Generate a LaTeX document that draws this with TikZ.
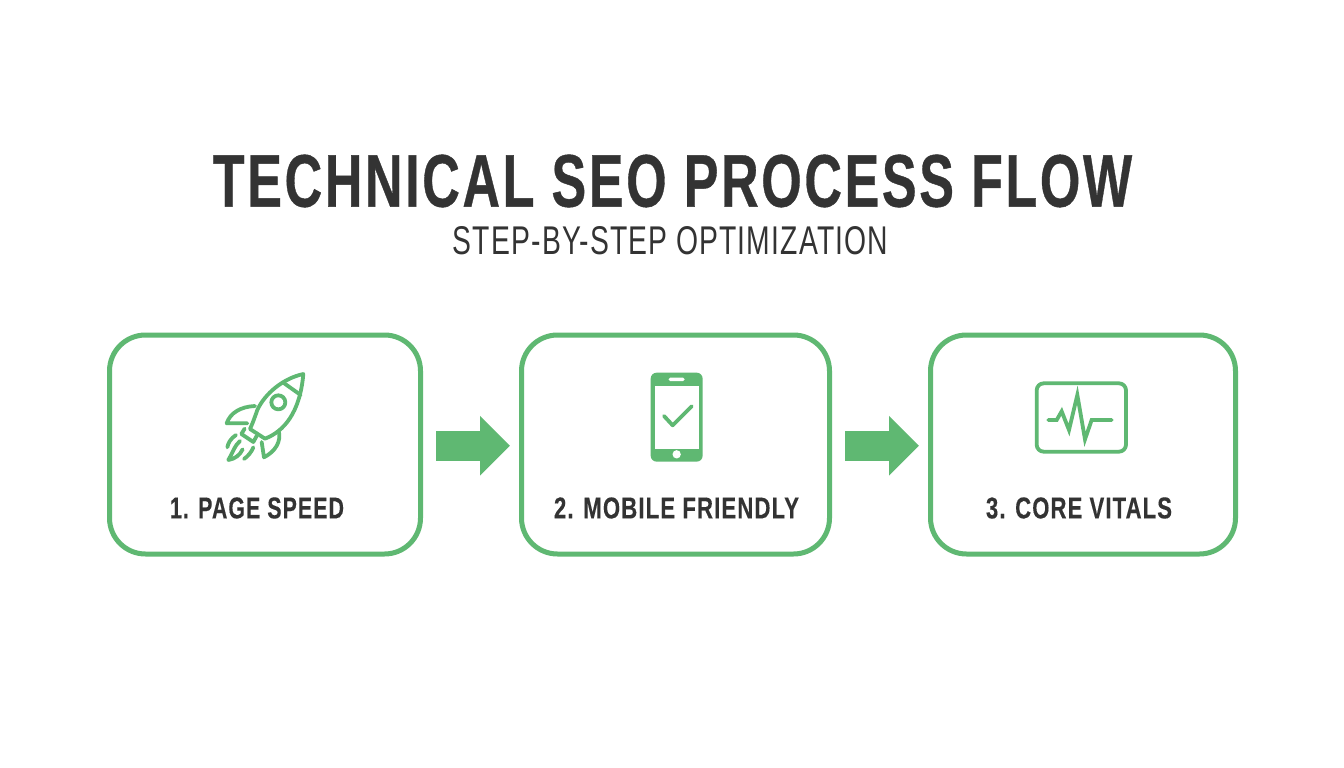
\documentclass[tikz,border=0pt]{standalone}
\usepackage{fontspec}
\usepackage{graphicx}
\setmainfont{Liberation Sans}
\newfontfamily\titlefont[LetterSpace=5,FakeBold=0.6,BoldFont={Liberation Sans Bold}]{Liberation Sans Bold}
\newfontfamily\labelfont[LetterSpace=5,FakeBold=0.3]{Liberation Sans Bold}
\newfontfamily\subfont[LetterSpace=4]{Liberation Sans}
\usetikzlibrary{arrows.meta,calc}
\definecolor{grn}{HTML}{5FB872}
\definecolor{ink}{HTML}{333333}
\newcommand{\fit}[3]{\resizebox{#1pt}{#2pt}{#3}}
\tikzset{
  x=1pt,y=-1pt,
  stepbox/.style={draw=grn,line width=5pt,rounded corners=36pt,fill=white,inner sep=0pt},
  flow/.style={draw=grn,line width=30pt,-{Triangle[length=30pt,width=58pt]},transform canvas={yshift=-1.2pt}},
  icon/.style={draw=grn,line width=3.8pt,line cap=round,line join=round,fill=none},
  lbl/.style={inner sep=0pt,text=ink},
}
\begin{document}
\begin{tikzpicture}
\useasboundingbox (0,0) rectangle (1344,768);
\fill[white] (0,0) rectangle (1344,768);
\node[lbl] (title) at (672.5,181) {\fit{919}{52}{\titlefont TECHNICAL SEO PROCESS FLOW}};
\node[lbl] (sub) at (670.5,241) {\fit{435}{28}{\subfont STEP-BY-STEP OPTIMIZATION}};

\node[stepbox,minimum width=311pt,minimum height=219pt] (a) at (265,444.5) {};
\node[stepbox,minimum width=308pt,minimum height=219pt] (b) at (675.5,444.5) {};
\node[stepbox,minimum width=305pt,minimum height=219pt] (c) at (1083,444.5) {};

\draw[flow,shorten <=13pt,shorten >=9pt] (a.east) -- (b.west);
\draw[flow,shorten <=13pt,shorten >=9pt] (b.east) -- (c.west);

\node[lbl] (la) at (257,508) {\fit{174}{21}{\labelfont 1. PAGE SPEED}};
\node[lbl] (lb) at (676.5,508) {\fit{245}{21}{\labelfont 2. MOBILE FRIENDLY}};
\node[lbl] (lc) at (1079,508) {\fit{186}{21}{\labelfont 3. CORE VITALS}};

% rocket
\begin{scope}[shift={(200,360)},x=0.3333pt,y=-0.3333pt]
\draw[icon] (310,42) .. controls (250,55) and (195,100) .. (172,150) .. controls (165,170) and (158,190) .. (150,207)
  -- (195,236) .. controls (250,215) and (300,160) .. (310,42) -- cycle;
\draw[icon] (250,68) -- (302,105);
\draw[icon] (235,127) circle (21);
\draw[icon] (165,138) .. controls (120,140) and (90,160) .. (80,190) -- (142,190);
\draw[icon] (236,212) .. controls (245,245) and (225,275) .. (192,292) -- (185,246);
\draw[icon] (134,206) -- (124,222) -- (160,246) -- (170,228);
\draw[icon] (108,225) .. controls (92,235) and (84,250) .. (82,262);
\draw[icon] (120,243) .. controls (105,255) and (97,280) .. (85,300) .. controls (105,297) and (120,285) .. (128,268);
\draw[icon] (160,262) .. controls (155,275) and (145,288) .. (132,297);
\end{scope}

% phone
\begin{scope}[shift={(620,360)},x=0.3333pt,y=-0.3333pt]
\fill[grn,rounded corners=6pt] (92,38) rectangle (248,305);
\fill[white] (104,77) rectangle (238,268);
\fill[white,rounded corners=1.5pt] (146,53) rectangle (194,63);
\fill[white] (170,283) circle (12.5);
\draw[icon] (132,168) -- (158,196) -- (215,139);
\end{scope}

% monitor
\begin{scope}[shift={(1020,370)},x=0.3333pt,y=-0.3333pt]
\draw[icon,rounded corners=7pt] (50,40) rectangle (318,245);
\draw[icon,line join=miter] (85,150) -- (110,150) -- (125,124) -- (147,180) -- (172,75) -- (195,208) -- (215,150) -- (275,150);
\end{scope}
\end{tikzpicture}
\end{document}
